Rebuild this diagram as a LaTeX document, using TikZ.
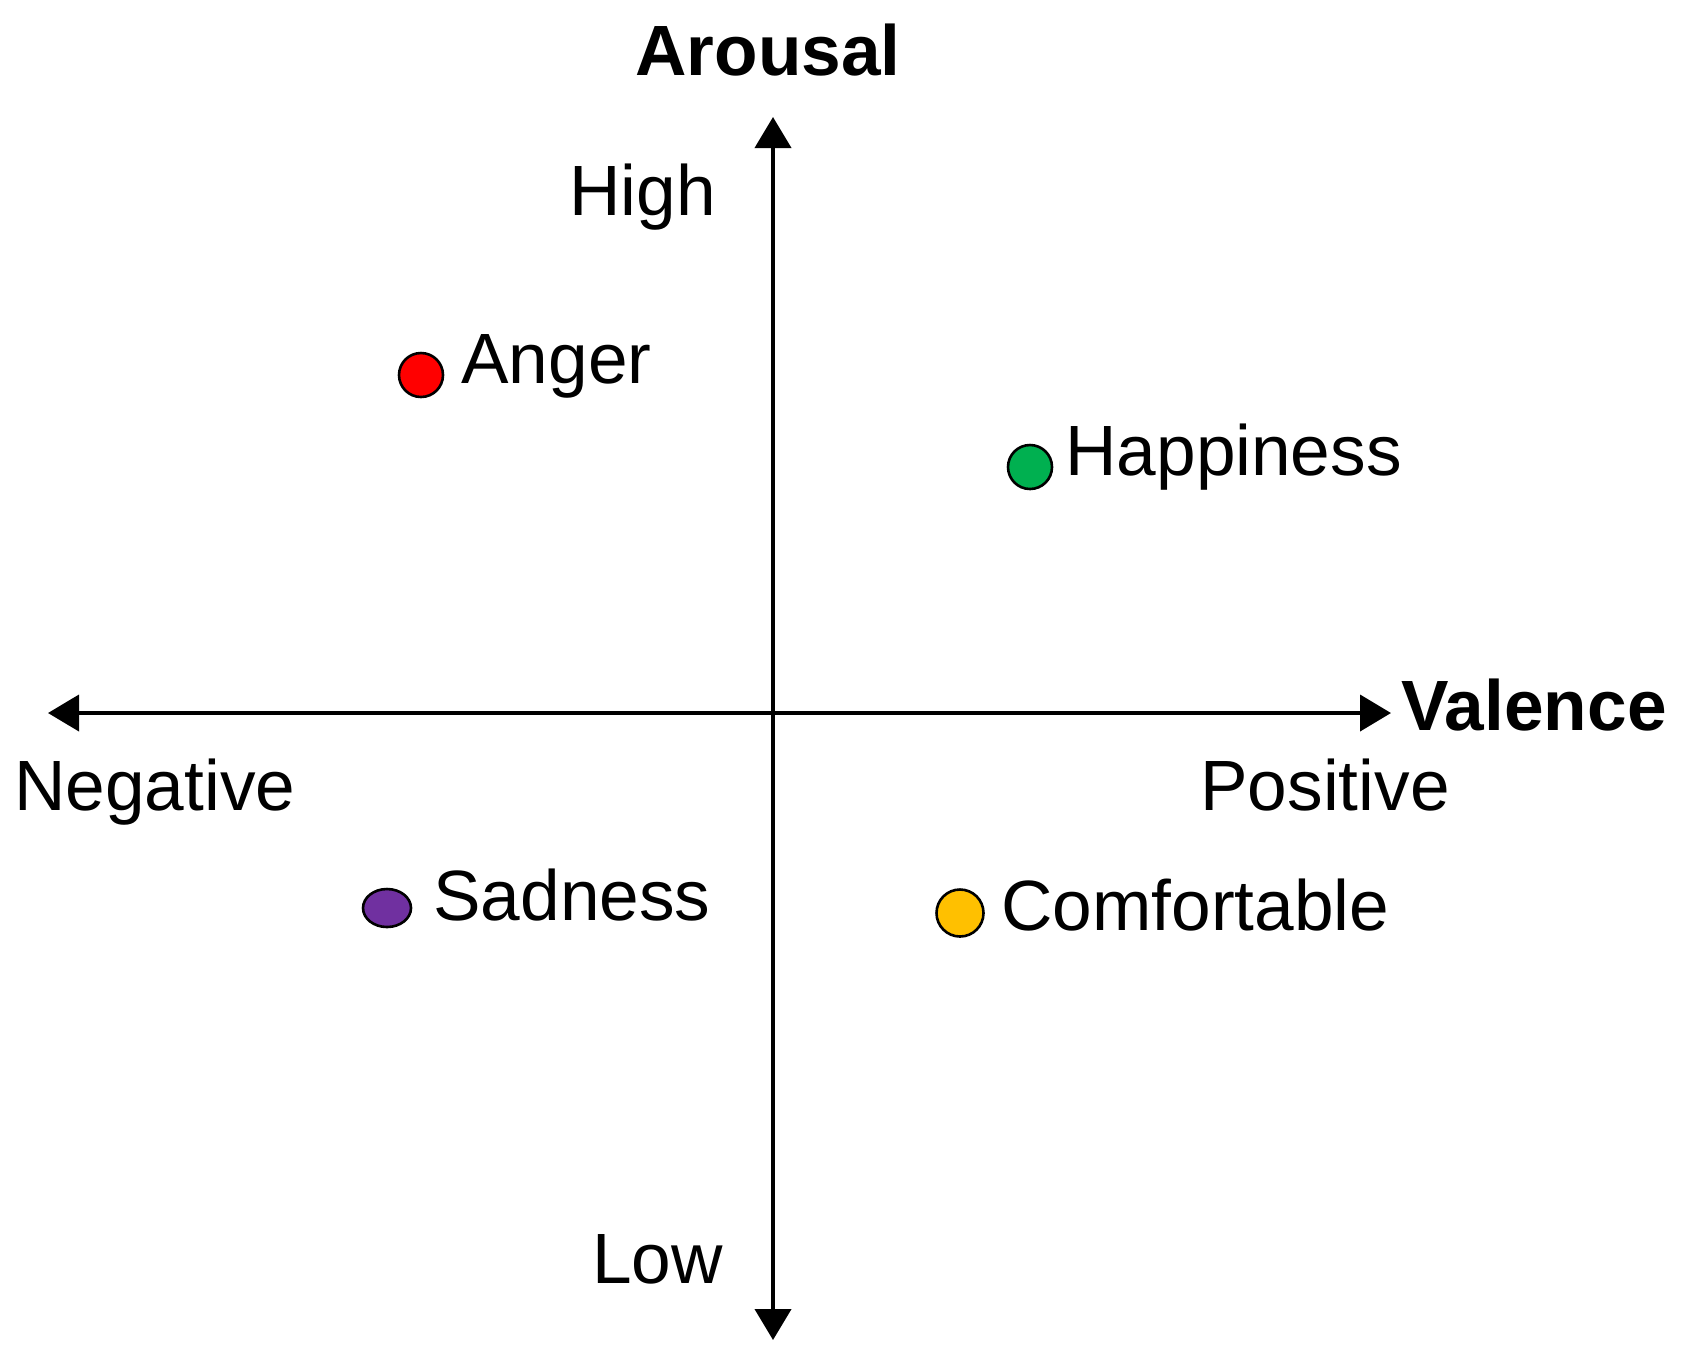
\documentclass[tikz,border=0pt]{standalone}
\usepackage{fontspec}
\setmainfont{Liberation Sans}
\usetikzlibrary{arrows.meta}
\begin{document}
\begin{tikzpicture}[x=0.5pt,y=-0.5pt,
  axis/.style={line width=2pt,{Triangle[length=15.5pt,width=18pt]}-{Triangle[length=15.5pt,width=18pt]}},
  lbl/.style={anchor=base west,inner sep=0pt,font=\fontsize{35.6}{42}\selectfont},
  blbl/.style={anchor=base west,inner sep=0pt,font=\fontsize{35.6}{42}\selectfont\bfseries},
  dot/.style={draw=black,line width=1.3pt}]
\useasboundingbox (0,0) rectangle (1684,1357);
\coordinate (top) at (773,117);
\coordinate (bot) at (773,1340);
\coordinate (left) at (48,713);
\coordinate (right) at (1391,713);
\draw[axis] (bot) -- (top);
\draw[axis] (left) -- (right);
\node[blbl] (arousal) at (635,75) {Arousal};
\node[blbl] (valence) at (1401,730) {Valence};
\node[lbl] (high) at (569,215) {High};
\node[lbl] (low) at (592,1283) {Low};
\node[lbl] (neg) at (14,810) {Negative};
\node[lbl] (pos) at (1200,810) {Positive};
\draw[dot,fill={rgb,255:red,255;green,0;blue,0}] (421,375) circle [radius=22];
\node[lbl] (anger) at (461,383) {Anger};
\draw[dot,fill={rgb,255:red,0;green,176;blue,80}] (1030,467) circle [radius=22];
\node[lbl] (happy) at (1065,475) {Happiness};
\draw[dot,fill={rgb,255:red,112;green,48;blue,160}] (387,908) ellipse [x radius=24,y radius=19];
\node[lbl] (sad) at (433,920) {Sadness};
\draw[dot,fill={rgb,255:red,255;green,192;blue,0}] (960,913) circle [radius=23.5];
\node[lbl] (comf) at (1001,930) {Comfortable};
\end{tikzpicture}
\end{document}
